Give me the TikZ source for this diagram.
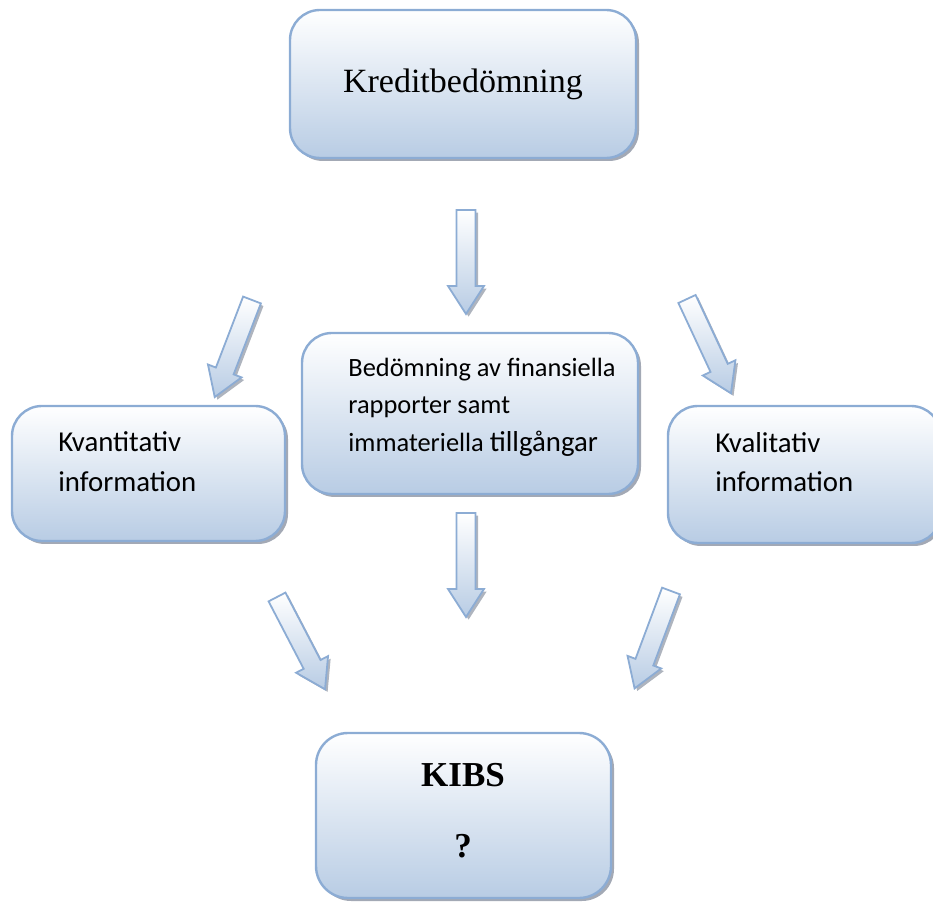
\documentclass[tikz,border=0pt]{standalone}
\usepackage{fontspec}
\setmainfont{Liberation Serif}
\newfontfamily\calfont{Carlito}
\usetikzlibrary{shadows}
\definecolor{bordc}{RGB}{140,172,212}
\definecolor{fillb}{RGB}{184,204,228}
\definecolor{shadc}{RGB}{140,148,162}
\tikzset{
  box/.style={draw=bordc, line width=1.2pt, rounded corners=15pt,
    top color=white, bottom color=fillb, inner sep=0pt,
    drop shadow={shadow xshift=1.5pt, shadow yshift=-1.5pt, fill=shadc, opacity=0.8}},
  ctxt/.style={inner sep=0pt, anchor=base west, font=\calfont\fontsize{14.4pt}{17pt}\selectfont},
  mtxt/.style={inner sep=0pt, anchor=base west, font=\calfont\fontsize{13.2pt}{16pt}\selectfont},
  arrbody/.style={draw=bordc, line width=0.9pt, top color=white, bottom color=fillb},
  arrshadow/.style={fill=shadc, opacity=0.7},
}
\newcommand\blockarr[2]{%
  \begin{scope}[shift={(#2)}, xshift=1.3pt, yshift=-1.3pt, rotate=#1]
    \path[arrshadow] (-9.5,0) -- (9.5,0) -- (9.5,76) -- (18,76) -- (0,104) -- (-18,76) -- (-9.5,76) -- cycle;
  \end{scope}
  \begin{scope}[shift={(#2)}, rotate=#1]
    \path[arrbody] (-9.5,0) -- (9.5,0) -- (9.5,76) -- (18,76) -- (0,104) -- (-18,76) -- (-9.5,76) -- cycle;
  \end{scope}}
\begin{document}
\begin{tikzpicture}[x=0.5pt, y=-0.5pt]
\useasboundingbox (0,0) rectangle (933,903);
% boxes
\node[box, minimum width=173pt, minimum height=74pt] (kredit) at (463,84) {};
\node[box, minimum width=136.5pt, minimum height=67.5pt] (kvant) at (148.5,473.5) {};
\node[box, minimum width=168pt, minimum height=80.5pt] (bedom) at (470,413.5) {};
\node[box, minimum width=136.5pt, minimum height=68.5pt] (kval) at (804.5,474.5) {};
\node[box, minimum width=147.5pt, minimum height=82.5pt, rounded corners=16pt] (kibs) at (463.5,815.5) {};
% texts
\node[inner sep=0pt, anchor=base, font=\fontsize{17pt}{20pt}\selectfont] (kredit-t) at (463,93) {Kreditbedömning};
\node[ctxt] (kvant-t1) at (58,452) {Kvantitativ};
\node[ctxt] (kvant-t2) at (58,492) {information};
\node[ctxt] (kval-t1) at (715,453) {Kvalitativ};
\node[ctxt] (kval-t2) at (715,492) {information};
\node[mtxt] (bedom-t1) at (348,377) {Bedömning av finansiella};
\node[mtxt] (bedom-t2) at (348,414) {rapporter samt};
\node[mtxt] (bedom-t3) at (348,452) {immateriella {\fontsize{14.4pt}{17pt}\selectfont tillgångar}};
\node[inner sep=0pt, anchor=base, font=\bfseries\fontsize{17.5pt}{21pt}\selectfont] (kibs-t1) at (463,787) {KIBS};
\node[inner sep=0pt, anchor=base, font=\bfseries\fontsize{17.5pt}{21pt}\selectfont] (kibs-t2) at (463,857) {?};
% arrow start points
\coordinate (a1) at (466,210);
\coordinate (a2) at (252,300);
\coordinate (a3) at (687,299);
\coordinate (a4) at (277,597);
\coordinate (a5) at (466,513);
\coordinate (a6) at (671,591);
\blockarr{0}{a1}
\blockarr{-21}{a2}
\blockarr{25}{a3}
\blockarr{27.5}{a4}
\blockarr{0}{a5}
\blockarr{-20.5}{a6}
\end{tikzpicture}
\end{document}
